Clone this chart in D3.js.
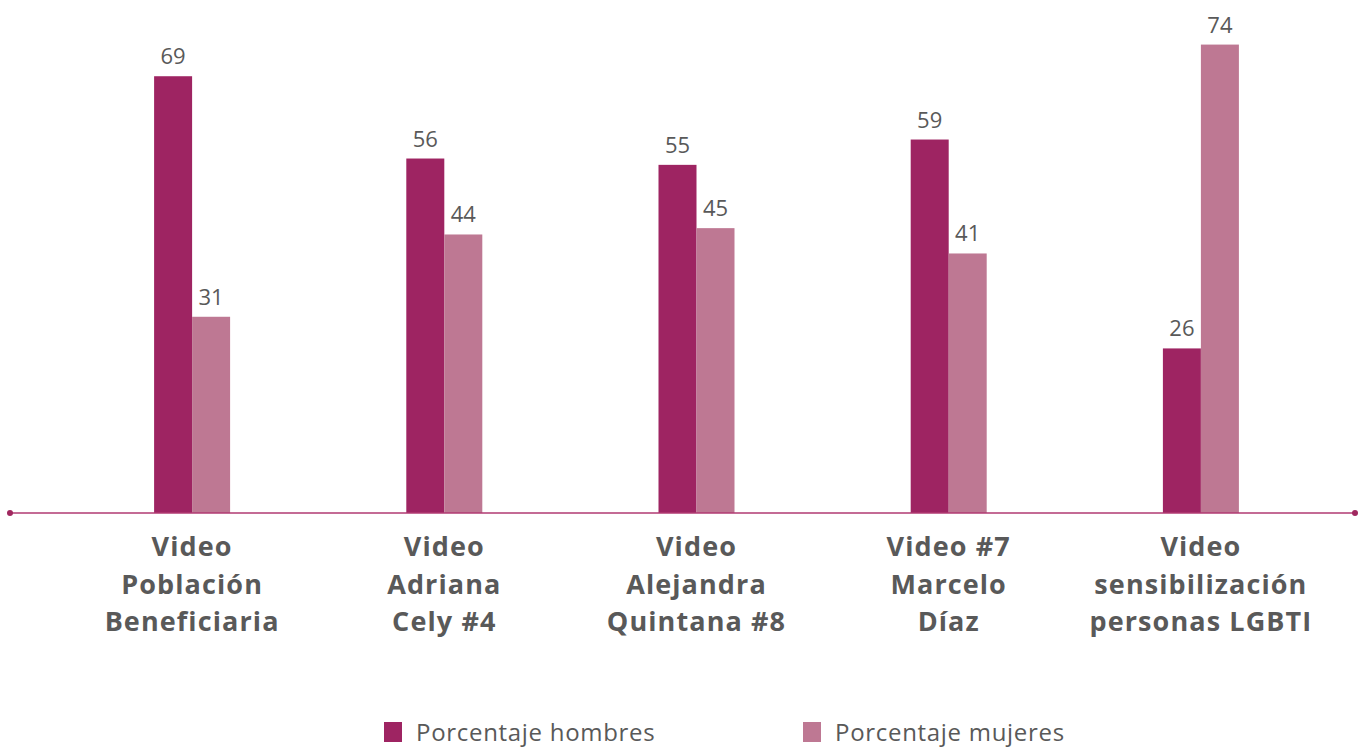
<!DOCTYPE html>
<html>
<head>
<meta charset="utf-8">
<script src="https://cdn.jsdelivr.net/npm/d3@7"></script>
<style>
  html, body { margin: 0; padding: 0; background: #ffffff; }
  svg { display: block; font-family: "Open Sans", Lato, sans-serif; }
</style>
</head>
<body>
<svg id="chart" width="1358" height="748"></svg>
<script>
// Video categories (each label wraps onto several lines)
const categories = [
  ["Video", "Población", "Beneficiaria"],
  ["Video", "Adriana", "Cely #4"],
  ["Video", "Alejandra", "Quintana #8"],
  ["Video #7", "Marcelo", "Díaz"],
  ["Video", "sensibilización", "personas LGBTI"]
];
const seriesNames = ["Porcentaje hombres", "Porcentaje mujeres"];
const hombres = [69, 56, 55, 59, 26];
const mujeres = [31, 44, 45, 41, 74];

const colors = ["#9e2462", "#be7893"];
const textColor = "#595959";

const svg = d3.select("#chart");
const baseline = 513;

const x0 = d3.scaleBand()
  .domain(d3.range(categories.length))
  .range([66, 1327]);

const x1 = d3.scaleBand()
  .domain([0, 1])
  .range([x0.bandwidth() / 2 - 38, x0.bandwidth() / 2 + 38]);

const y = d3.scaleLinear()
  .domain([0, 80])
  .range([baseline, baseline - 80 * 6.33]);

const rows = categories.map((c, i) => ({ i, values: [hombres[i], mujeres[i]] }));

const groups = svg.selectAll("g.group")
  .data(rows)
  .join("g")
  .attr("class", "group")
  .attr("transform", d => `translate(${x0(d.i)},0)`);

groups.selectAll("rect")
  .data(d => d.values.map((v, s) => ({ v, s })))
  .join("rect")
  .attr("x", d => x1(d.s))
  .attr("width", x1.bandwidth())
  .attr("y", d => y(d.v))
  .attr("height", d => y(0) - y(d.v))
  .attr("fill", d => colors[d.s]);

groups.selectAll("text.value")
  .data(d => d.values.map((v, s) => ({ v, s })))
  .join("text")
  .attr("class", "value")
  .attr("x", d => x1(d.s) + x1.bandwidth() / 2)
  .attr("y", d => y(d.v) - 12)
  .attr("text-anchor", "middle")
  .attr("font-size", 22)
  .attr("fill", textColor)
  .text(d => d.v);

// Baseline with round end markers
svg.append("line")
  .attr("x1", 10).attr("x2", 1355)
  .attr("y1", baseline).attr("y2", baseline)
  .attr("stroke", "#b03a72")
  .attr("stroke-width", 1.5);
[10, 1355].forEach(cx => {
  svg.append("circle")
    .attr("cx", cx).attr("cy", baseline).attr("r", 3)
    .attr("fill", "#a0285f");
});

// Category labels
const labels = svg.selectAll("text.cat")
  .data(categories)
  .join("text")
  .attr("class", "cat")
  .attr("text-anchor", "middle")
  .attr("font-size", 27)
  .attr("font-weight", "bold")
  .attr("letter-spacing", 1.1)
  .attr("fill", textColor)
  .attr("x", (d, i) => x0(i) + x0.bandwidth() / 2);

labels.selectAll("tspan")
  .data(d => d)
  .join("tspan")
  .attr("x", function () { return d3.select(this.parentNode).attr("x"); })
  .attr("y", (d, j) => 556 + j * 37.5)
  .text(d => d);

// Legend
const legendX = [384, 803];
const legend = svg.selectAll("g.legend")
  .data(seriesNames)
  .join("g")
  .attr("class", "legend")
  .attr("transform", (d, i) => `translate(${legendX[i]},722)`);

legend.append("rect")
  .attr("width", 18).attr("height", 20)
  .attr("fill", (d, i) => colors[i]);

legend.append("text")
  .attr("x", 32)
  .attr("y", 19)
  .attr("font-size", 24)
  .attr("letter-spacing", 0.7)
  .attr("fill", textColor)
  .text(d => d);
</script>
</body>
</html>
